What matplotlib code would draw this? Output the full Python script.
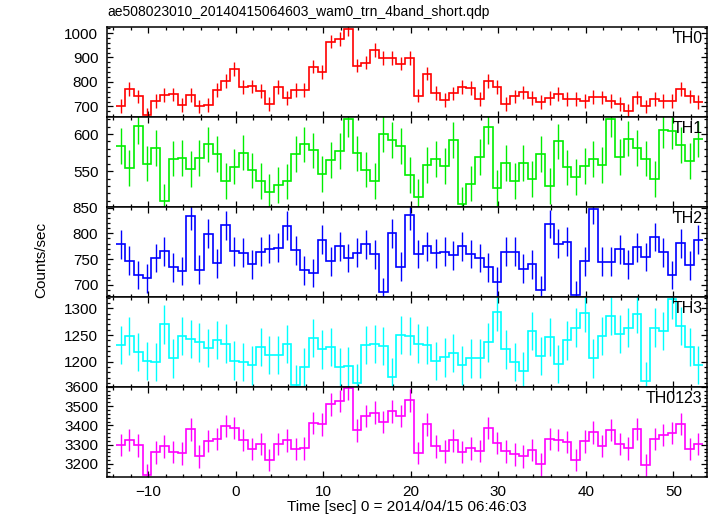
import matplotlib
matplotlib.use("Agg")
import matplotlib.pyplot as plt
from matplotlib.ticker import MultipleLocator
import numpy as np

plt.rcParams['font.family'] = ['Liberation Sans', 'DejaVu Sans']

# 1-s bins, centres in seconds from 2014/04/15 06:46:03
t_first = -13.15
n_bins = 67

th0 = [702, 771, 741, 666, 723, 747, 749, 707, 747, 700, 706, 768, 804, 853, 780, 782, 764,
       710, 778, 733, 767, 768, 863, 841, 965, 976, 1017, 867, 879, 930, 898, 898, 875,
       898, 744, 834, 756, 727, 753, 778, 775, 731, 804, 778, 710, 741, 757, 734, 718, 734,
       752, 730, 730, 723, 739, 737, 723, 710, 682, 737, 700, 730, 723, 722, 771, 741, 719]
th1 = [584, 554, 611, 560, 581, 509, 567, 568, 553, 568, 586, 573, 537, 556, 575, 551, 537,
       522, 531, 536, 573, 586, 578, 546, 565, 577, 620, 574, 552, 537, 600, 592, 584,
       545, 515, 558, 566, 557, 592, 505, 533, 569, 610, 527, 561, 537, 561, 539, 573, 530,
       590, 555, 542, 557, 566, 558, 620, 569, 594, 581, 567, 539, 605, 604, 585, 564, 593]
th2 = [779, 747, 719, 713, 752, 765, 734, 727, 834, 729, 799, 742, 816, 765, 762, 740, 764,
       770, 772, 815, 767, 728, 723, 788, 746, 775, 752, 762, 779, 759, 686, 800, 735,
       835, 760, 775, 761, 764, 757, 775, 760, 752, 734, 706, 764, 764, 731, 740, 690, 818,
       780, 784, 680, 746, 847, 745, 745, 769, 740, 773, 754, 793, 763, 719, 781, 738, 788]
th3 = [1231, 1248, 1218, 1201, 1199, 1270, 1206, 1248, 1242, 1236, 1226, 1241, 1234, 1202,
       1199, 1193, 1228, 1212, 1212, 1233, 1157, 1190, 1244, 1223, 1227, 1190, 1191, 1160,
       1231, 1233, 1229, 1171, 1250,
       1248, 1234, 1231, 1201, 1208, 1216, 1193, 1206, 1206, 1236, 1294, 1223, 1199, 1183,
       1258, 1211, 1246, 1196, 1240, 1264, 1291, 1206, 1248, 1286, 1252, 1264, 1289, 1164,
       1264, 1258, 1317, 1267, 1228, 1194]
th0123 = [3298, 3324, 3296, 3144, 3260, 3291, 3263, 3255, 3379, 3239, 3320, 3329, 3396, 3385,
          3324, 3276, 3302, 3220, 3302, 3322, 3276, 3281, 3414, 3405, 3509, 3527, 3592, 3374,
          3448, 3467, 3417, 3473, 3450,
          3530, 3258, 3405, 3291, 3265, 3322, 3263, 3281, 3267, 3388, 3308, 3265, 3250, 3239,
          3274, 3198, 3331, 3324, 3314, 3219, 3317, 3364, 3294, 3376, 3302, 3281, 3381, 3194,
          3331, 3350, 3362, 3407, 3276, 3303]

names = ['TH0', 'TH1', 'TH2', 'TH3', 'TH0123']
series = [th0, th1, th2, th3, th0123]
errors = [28, 24, 28, 36, 58]   # typical 1-sigma bar half-length per band
colors = ['#ff0000', '#00ee00', '#0000ff', '#00ffff', '#ff00ff']
ylims = [(658, 1026), (502, 623.5), (677, 851.8), (1153, 1322), (3134, 3601)]
majors = [100, 50, 50, 50, 100]
minors = [20, 10, 10, 10, 20]

t = t_first + np.arange(n_bins)
edges = np.append(t - 0.5, t[-1] + 0.5)

fig, axes = plt.subplots(5, 1, sharex=True, figsize=(7.17, 5.16), dpi=100)
fig.subplots_adjust(left=0.1488, right=0.9856, top=0.9483, bottom=0.0762, hspace=0)

for ax, name, y, e, c, yl, mj, mn in zip(axes, names, series, errors, colors, ylims, majors, minors):
    y = np.array(y, dtype=float)
    ax.stairs(y, edges, baseline=None, color=c, lw=1.2)
    ax.errorbar(t, y, yerr=e, fmt='none', ecolor=c, elinewidth=1.0, capsize=0)
    ax.set_ylim(*yl)
    ax.yaxis.set_major_locator(MultipleLocator(mj))
    ax.yaxis.set_minor_locator(MultipleLocator(mn))
    ax.text(0.993, 0.95, name, transform=ax.transAxes, ha='right', va='top', fontsize=11.5)
    for s in ax.spines.values():
        s.set_linewidth(1.1)
    ax.tick_params(which='both', direction='in', top=True, right=True, labelsize=11, width=0.9)
    ax.tick_params(which='major', length=4.5, pad=6)
    ax.tick_params(which='minor', length=2.4)

axes[-1].set_xlim(-14.75, 53.8)
axes[-1].xaxis.set_major_locator(MultipleLocator(10))
axes[-1].xaxis.set_minor_locator(MultipleLocator(2))
axes[-1].set_xlabel('Time [sec] 0 = 2014/04/15 06:46:03', fontsize=11, labelpad=1)

fig.text(41 / 717, 1 - 260 / 516, 'Counts/sec', rotation=90, ha='center', va='center', fontsize=11)
fig.text(107 / 717, 1 - 12 / 516, 'ae508023010_20140415064603_wam0_trn_4band_short.qdp',
         ha='left', va='center', fontsize=10, family=['Liberation Sans Narrow', 'Liberation Sans'])

fig.savefig('out.png', dpi=100)
